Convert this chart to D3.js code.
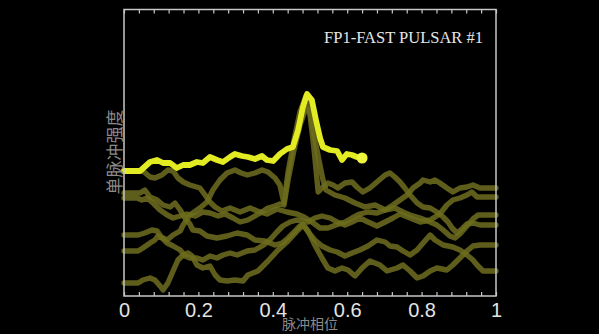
<!DOCTYPE html>
<html><head><meta charset="utf-8">
<script src="https://cdn.jsdelivr.net/npm/d3@7"></script>
<style>html,body{margin:0;padding:0;background:#000;overflow:hidden}</style>
</head><body><svg id="c" width="599" height="334"></svg>
<script>
// ---- data ----
const phaseTicks = [0, 0.2, 0.4, 0.6, 0.8, 1];
const tickLabels = ["0", "0.2", "0.4", "0.6", "0.8", "1"];
const minorTicks = d3.range(0, 25.5, 1).map(i => i * 0.04);
const titleText = "FP1-FAST PULSAR #1";
const xTitle = "脉冲相位";
const yTitle = "单脉冲强度";

// current (highlighted) single pulse, [phase, intensity]
const currentPulse = [[0,125],[0.043,125],[0.070,134],[0.089,136],[0.105,133],[0.124,133],[0.142,128],[0.159,131],[0.177,131],[0.196,134],[0.212,133],[0.231,139],[0.250,136],[0.266,134],[0.285,139],[0.298,142],[0.317,140],[0.333,139],[0.352,137],[0.371,140],[0.384,136],[0.401,135],[0.419,142],[0.438,147],[0.454,149],[0.468,166],[0.481,189],[0.492,202],[0.505,196],[0.516,176],[0.527,158],[0.535,149],[0.554,146],[0.573,145],[0.586,136],[0.599,142],[0.613,141],[0.626,139],[0.640,138]];

// earlier single pulses
const pulse1 = [[0,125],[0.051,125],[0.070,119],[0.083,118],[0.102,121],[0.118,126],[0.132,125],[0.145,118],[0.159,114],[0.177,111],[0.204,108],[0.218,101],[0.231,94],[0.245,89],[0.263,85],[0.285,88],[0.312,84],[0.339,88],[0.358,85],[0.384,82],[0.411,87],[0.438,84],[0.465,82],[0.484,79],[0.505,74],[0.527,68],[0.548,68],[0.570,71],[0.594,74],[0.613,78],[0.634,82],[0.656,84],[0.680,83],[0.702,86],[0.723,91],[0.742,96],[0.761,101],[0.777,108],[0.796,113],[0.804,116],[0.823,114],[0.836,116],[0.849,113],[0.868,108],[0.884,104],[0.903,108],[0.922,109],[0.938,111],[0.957,108],[1,108]];
const pulse2 = [[0,103],[0.043,103],[0.056,106],[0.070,99],[0.089,96],[0.105,91],[0.124,89],[0.137,93],[0.151,86],[0.164,78],[0.177,72],[0.185,66],[0.204,65],[0.223,60],[0.250,58],[0.277,60],[0.304,63],[0.331,61],[0.352,56],[0.379,55],[0.406,51],[0.425,53],[0.441,58],[0.460,65],[0.473,70],[0.481,72],[0.495,64],[0.513,56],[0.532,50],[0.554,46],[0.573,44],[0.594,40],[0.613,43],[0.634,46],[0.656,50],[0.680,56],[0.702,54],[0.715,50],[0.734,49],[0.750,45],[0.769,41],[0.788,46],[0.804,53],[0.823,61],[0.836,56],[0.858,51],[0.884,49],[0.903,46],[0.922,41],[0.938,36],[0.949,31],[0.965,25],[1,25]];
const pulse3 = [[0,98],[0.035,98],[0.048,96],[0.062,98],[0.078,93],[0.097,86],[0.116,81],[0.132,78],[0.151,80],[0.169,82],[0.191,80],[0.212,84],[0.231,83],[0.253,80],[0.272,82],[0.293,78],[0.312,74],[0.333,76],[0.352,80],[0.371,84],[0.387,88],[0.406,90],[0.419,92],[0.430,91],[0.441,116],[0.457,146],[0.473,171],[0.489,188],[0.500,184],[0.511,161],[0.524,136],[0.535,116],[0.543,106],[0.567,101],[0.594,98],[0.621,93],[0.648,89],[0.675,91],[0.702,86],[0.728,88],[0.750,84],[0.769,81],[0.796,78],[0.823,74],[0.841,71],[0.858,66],[0.876,60],[0.890,58],[0.903,62],[0.922,70],[0.938,77],[0.952,81],[1,81]];
const pulse4 = [[0,61],[0.038,61],[0.056,63],[0.075,66],[0.089,65],[0.102,58],[0.116,53],[0.132,50],[0.151,46],[0.164,40],[0.177,38],[0.196,38],[0.212,36],[0.231,40],[0.250,38],[0.266,41],[0.285,43],[0.304,41],[0.331,45],[0.352,46],[0.371,50],[0.392,56],[0.411,64],[0.427,70],[0.446,74],[0.465,76],[0.481,75],[0.495,74],[0.513,78],[0.532,80],[0.554,78],[0.573,74],[0.594,71],[0.613,74],[0.634,78],[0.656,74],[0.680,70],[0.702,74],[0.723,78],[0.742,82],[0.769,78],[0.796,74],[0.823,76],[0.849,82],[0.868,91],[0.884,96],[0.903,98],[0.922,101],[0.935,104],[0.949,99],[1,99]];
const pulse5 = [[0,45],[0.038,45],[0.051,48],[0.070,53],[0.083,56],[0.091,60],[0.105,58],[0.116,56],[0.132,61],[0.151,65],[0.159,71],[0.177,81],[0.204,88],[0.223,94],[0.239,106],[0.258,116],[0.277,123],[0.298,126],[0.315,123],[0.331,121],[0.352,123],[0.371,126],[0.387,124],[0.406,118],[0.419,111],[0.430,93],[0.441,124],[0.457,156],[0.473,184],[0.489,200],[0.500,181],[0.511,146],[0.522,104],[0.532,108],[0.548,113],[0.562,111],[0.575,108],[0.594,113],[0.613,114],[0.626,109],[0.642,104],[0.661,108],[0.683,115],[0.702,121],[0.715,123],[0.728,119],[0.742,114],[0.755,108],[0.769,101],[0.788,93],[0.804,89],[0.823,88],[0.841,84],[0.858,79],[0.871,74],[0.882,68],[0.895,63],[0.911,68],[0.922,72],[0.938,73],[0.957,71],[1,71]];
const pulse6 = [[0,13],[0.038,13],[0.051,16],[0.070,18],[0.083,16],[0.097,10],[0.105,6],[0.118,13],[0.132,25],[0.145,36],[0.159,41],[0.172,43],[0.183,40],[0.196,31],[0.212,28],[0.231,30],[0.245,21],[0.258,16],[0.277,15],[0.298,16],[0.320,15],[0.333,21],[0.360,25],[0.387,35],[0.414,46],[0.441,55],[0.468,66],[0.481,71],[0.495,65],[0.513,51],[0.532,38],[0.548,28],[0.567,25],[0.586,28],[0.602,26],[0.621,20],[0.640,28],[0.661,35],[0.688,31],[0.707,25],[0.734,28],[0.750,31],[0.769,25],[0.788,18],[0.804,20],[0.823,25],[0.841,28],[0.868,26],[0.884,31],[0.903,38],[0.922,45],[0.938,50],[0.957,51],[1,51]];
const pastPulses = [pulse6, pulse4, pulse2, pulse1, pulse3, pulse5];

// ---- drawing ----
const svg = d3.select("#c");
svg.append("rect").attr("width", 599).attr("height", 334).attr("fill", "#000");

const x = d3.scaleLinear().domain([0, 1]).range([124, 496]);
const y = d3.scaleLinear().domain([0, 286.5]).range([296, 9.5]);

const defs = svg.append("defs");
defs.append("filter").attr("id", "soft").append("feGaussianBlur").attr("stdDeviation", 0.45);

const line = d3.line().x(d => x(d[0])).y(d => y(d[1]));

const gLines = svg.append("g").attr("filter", "url(#soft)");
gLines.selectAll("path.past").data(pastPulses).join("path")
  .attr("class", "past")
  .attr("d", line)
  .attr("fill", "none")
  .attr("stroke", "#6e6c1c")
  .attr("stroke-opacity", 0.86)
  .attr("stroke-width", 5.4)
  .attr("stroke-linejoin", "round")
  .attr("stroke-linecap", "round");

gLines.append("path")
  .attr("d", line(currentPulse))
  .attr("fill", "none")
  .attr("stroke", "#e3ec22")
  .attr("stroke-width", 5.8)
  .attr("stroke-linejoin", "round")
  .attr("stroke-linecap", "round");

const last = currentPulse[currentPulse.length - 1];
gLines.append("circle")
  .attr("cx", x(last[0])).attr("cy", y(last[1])).attr("r", 5.5)
  .attr("fill", "#eef53c");

// frame
svg.append("rect")
  .attr("x", x(0)).attr("y", y(286.5))
  .attr("width", x(1) - x(0)).attr("height", y(0) - y(286.5))
  .attr("fill", "none").attr("stroke", "#c8c8c8").attr("stroke-width", 1.5);

// minor ticks bottom and top (inward)
const gb = svg.append("g").attr("transform", `translate(0,${y(0)})`)
  .call(d3.axisBottom(x).tickValues(minorTicks).tickSize(-4).tickFormat(""));
const gt = svg.append("g").attr("transform", `translate(0,${y(286.5)})`)
  .call(d3.axisTop(x).tickValues(minorTicks).tickSize(-4).tickFormat(""));
[gb, gt].forEach(g => {
  g.select(".domain").remove();
  g.selectAll("line").attr("stroke", "#c8c8c8").attr("stroke-width", 1.2);
});

// tick labels
const gl = svg.append("g").attr("transform", `translate(0,${y(0)})`)
  .call(d3.axisBottom(x).tickValues(phaseTicks).tickFormat((d, i) => tickLabels[i]).tickSize(0));
gl.select(".domain").remove();
gl.selectAll("text")
  .attr("y", 21).attr("dy", null)
  .attr("fill", "#e4e4e4")
  .style("font-family", "'Liberation Sans', Arial, sans-serif")
  .style("font-size", "20px");

// title
svg.append("text")
  .attr("x", 483).attr("y", 43)
  .attr("text-anchor", "end")
  .attr("fill", "#e6e6e6")
  .style("font-family", "'Liberation Serif', 'Times New Roman', serif")
  .style("font-size", "16.5px")
  .text(titleText);

// axis titles
svg.append("text")
  .attr("transform", "translate(113,152) rotate(-90)")
  .attr("text-anchor", "middle")
  .attr("dominant-baseline", "central")
  .attr("fill", "#8a8a8a")
  .style("font-family", "'Noto Sans CJK SC', sans-serif")
  .style("font-size", "17px")
  .text(yTitle);

svg.append("text")
  .attr("x", 310).attr("y", 329)
  .attr("text-anchor", "middle")
  .attr("fill", "#8a8a8a")
  .style("font-family", "'Noto Sans CJK SC', sans-serif")
  .style("font-size", "14px")
  .text(xTitle);
</script>
</body></html>
